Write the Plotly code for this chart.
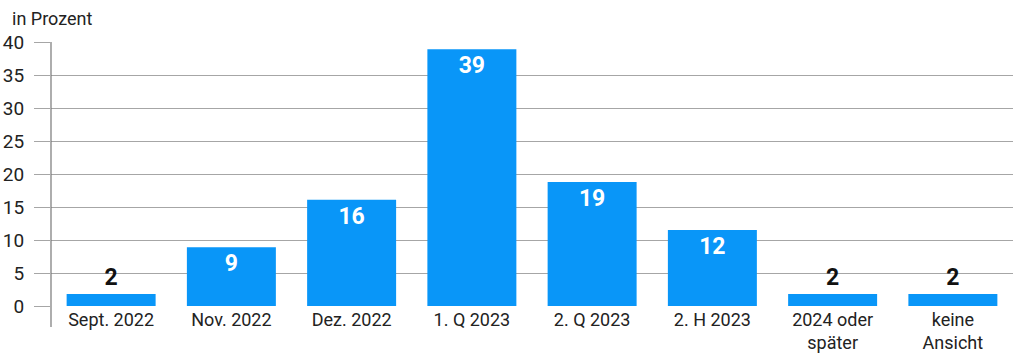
import plotly.graph_objects as go

categories = ["Sept. 2022", "Nov. 2022", "Dez. 2022", "1. Q 2023", "2. Q 2023",
              "2. H 2023", "2024 oder<br>später", "keine<br>Ansicht"]
values = [1.8, 8.9, 16.1, 38.9, 18.8, 11.5, 1.8, 1.8]
labels = ["2", "9", "16", "39", "19", "12", "2", "2"]
y_ticks = [0, 5, 10, 15, 20, 25, 30, 35, 40]

positions = ["outside" if v < 5 else "inside" for v in values]
colors = ["#111111" if v < 5 else "#ffffff" for v in values]

fig = go.Figure(go.Bar(
    x=categories, y=values, text=labels,
    textposition=positions,
    insidetextanchor="end",
    textangle=0,
    textfont=dict(family="Roboto", size=23, color=colors, weight="bold"),
    outsidetextfont=dict(family="Roboto", size=23, color="#111111", weight="bold"),
    insidetextfont=dict(family="Roboto", size=23, color="#ffffff", weight="bold"),
    marker=dict(color="#0996f8", line=dict(width=0)),
    width=0.74,
    cliponaxis=False,
))

fig.update_layout(
    width=1024, height=359,
    margin=dict(l=51, r=11, t=42, b=53, autoexpand=False),
    paper_bgcolor="white", plot_bgcolor="white",
    font=dict(family="Roboto", size=18, color="#222222"),
    showlegend=False,
    bargap=0.26,
    xaxis=dict(showgrid=False, showline=False, ticks="", tickfont=dict(size=18),
               ticklabelstandoff=1, automargin=False),
    yaxis=dict(range=[0, 40], tickvals=y_ticks, showgrid=True, gridcolor="#a6a6a6",
               gridwidth=1.2, zeroline=False, showline=False, ticks="outside",
               ticklen=16, tickcolor="#a6a6a6", tickwidth=1.2, automargin=False,
               tickfont=dict(size=19, color="#222222"), ticklabelstandoff=6),
    shapes=[dict(type="line", xref="paper", yref="paper", x0=0, x1=0, y0=-0.08, y1=1,
                 line=dict(color="#777777", width=1.2))],
    annotations=[dict(text="in Prozent", xref="paper", yref="paper", x=(10 - 51) / 962,
                      y=1, yshift=24, xanchor="left", yanchor="middle", showarrow=False,
                      font=dict(size=18, color="#222222"))],
)

fig.write_html("out.html", config={"displayModeBar": False},
               post_script="document.body.style.margin='0';")
